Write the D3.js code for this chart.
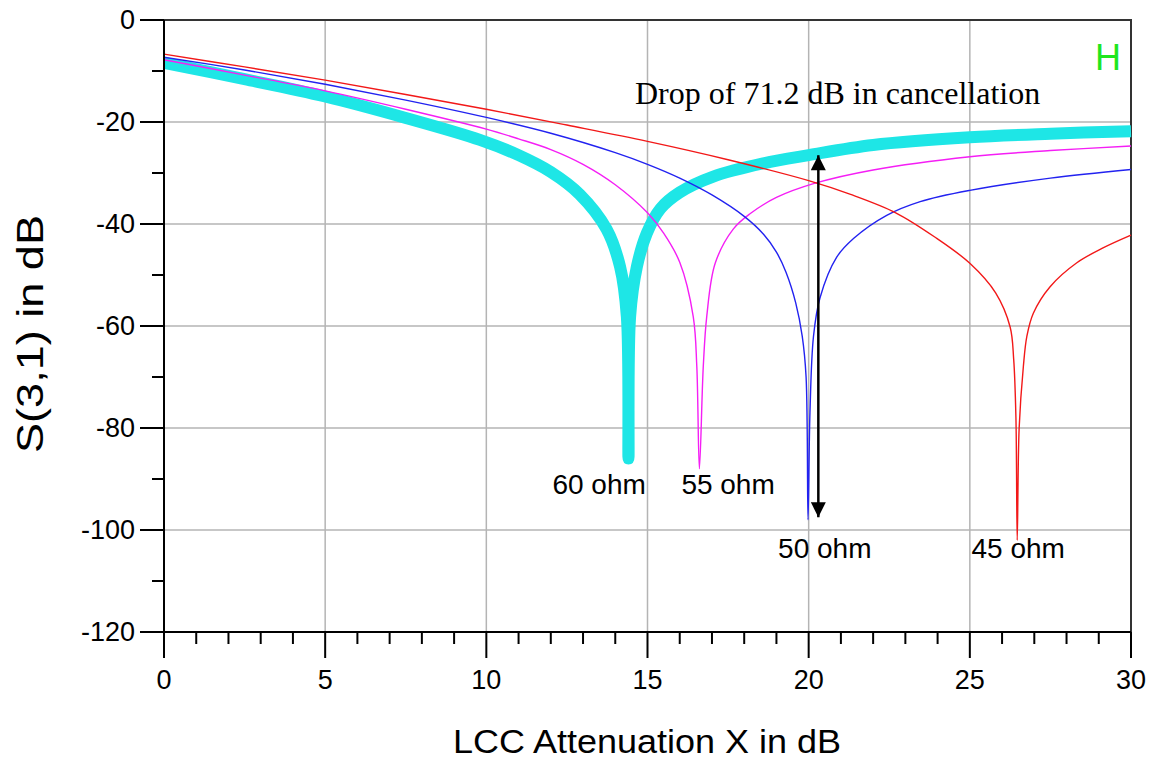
<!DOCTYPE html>
<html>
<head>
<meta charset="utf-8">
<script src="https://cdnjs.cloudflare.com/ajax/libs/d3/7.8.5/d3.min.js"></script>
<style>
  body { margin: 0; background: #fff; }
  svg { display: block; font-family: "Liberation Sans", Arial, sans-serif; }
</style>
</head>
<body>
<svg></svg>
<script>
// values (X in dB, S(3,1) in dB)
var redX = [0, 2.5, 5, 7.5, 10, 12.5, 15, 17.5, 20, 21.3, 22.7, 23.9, 25, 25.8, 26.25, 26.36, 26.43, 26.47, 26.53, 26.66, 26.77, 26.97, 27.49, 28.32, 29.1, 30];
var redY = [-6.7, -9.2, -11.8, -14.6, -17.5, -20.6, -23.8, -27.4, -31.5, -34.2, -37.8, -42.5, -47.7, -53.5, -60.2, -66.5, -78, -102, -80, -68, -62, -57.5, -52.3, -47.6, -44.8, -42.2];

var blueX = [0, 2.5, 5, 7.5, 10, 12, 14, 15, 16, 17, 18, 18.6, 19, 19.3, 19.6, 19.8, 19.92, 19.98, 20.04, 20.15, 20.35, 20.87, 21.4, 22.42, 23.46, 25, 27.5, 30];
var blueY = [-7.3, -9.8, -12.6, -15.7, -19.1, -22.2, -26, -28.3, -31, -34.3, -38.5, -42, -45.5, -49.5, -55.5, -62, -70, -98, -77, -62, -54.5, -46.5, -42.8, -38.3, -35.6, -33.4, -31, -29.3];

var magentaX = [0, 2.5, 5, 7.5, 10, 11, 12, 13, 14, 15, 15.5, 16, 16.42, 16.53, 16.61, 16.73, 16.84, 17.1, 17.66, 18.18, 19, 20.2, 22, 25, 27.5, 30];
var magentaY = [-7.8, -10.8, -13.9, -17.5, -21.4, -23.3, -25.4, -28.3, -32.3, -37.8, -41.8, -47.5, -58.2, -68, -88, -68, -58, -47.7, -41, -38, -34.8, -32, -29.4, -26.8, -25.6, -24.7];

var cyanX = [0, 2.5, 5, 7.5, 9.8, 11, 12, 12.9, 13.73, 14.15, 14.36, 14.41, 14.46, 14.67, 14.98, 15.4, 16, 17.04, 18.6, 20, 22, 25, 27.5, 30];
var cyanY = [-8.4, -11.6, -15, -19.2, -23.5, -26.5, -29.8, -34.2, -41, -48.4, -58.2, -86, -58.2, -48.4, -41.8, -37, -33.8, -30.7, -28.1, -26.5, -24.5, -23, -22.3, -21.8];

var seriesNames = ["45 ohm", "50 ohm", "55 ohm", "60 ohm"];
var xTicks = [0, 5, 10, 15, 20, 25, 30];
var yTicks = [0, -20, -40, -60, -80, -100, -120];

// drop marker: X position and the two ends
var dropX = 20.3;
var dropEnds = [-26.5, -97.5];

var svgW = 1151, svgH = 762;
var mLeft = 164, mTop = 20, mRight = 1131, mBottom = 632;

var svg = d3.select("svg").attr("width", svgW).attr("height", svgH);

var xScale = d3.scaleLinear().domain([0, 30]).range([mLeft, mRight]);
var yScale = d3.scaleLinear().domain([-120, 0]).range([mBottom, mTop]);

// grid
svg.append("g").selectAll("line")
  .data(d3.range(5, 30, 5))
  .enter().append("line")
  .attr("x1", function(d) { return xScale(d); })
  .attr("x2", function(d) { return xScale(d); })
  .attr("y1", mTop).attr("y2", mBottom)
  .attr("stroke", "#b4b4b4").attr("stroke-width", 1.5);
svg.append("g").selectAll("line")
  .data(d3.range(-100, 0, 20))
  .enter().append("line")
  .attr("y1", function(d) { return yScale(d); })
  .attr("y2", function(d) { return yScale(d); })
  .attr("x1", mLeft).attr("x2", mRight)
  .attr("stroke", "#b4b4b4").attr("stroke-width", 1.5);

// frame top/right
svg.append("path")
  .attr("d", "M" + mLeft + "," + mTop + "H" + mRight + "V" + mBottom)
  .attr("fill", "none").attr("stroke", "#333").attr("stroke-width", 2);

// curves
var curves = [
  {name: seriesNames[0], x: redX, y: redY, color: "#f21818", w: 1.4},
  {name: seriesNames[1], x: blueX, y: blueY, color: "#2222f0", w: 1.4},
  {name: seriesNames[2], x: magentaX, y: magentaY, color: "#f51ef5", w: 1.4},
  {name: seriesNames[3], x: cyanX, y: cyanY, color: "#1ee6e6", w: 12}
];

var line = d3.line()
  .x(function(d) { return xScale(d[0]); })
  .y(function(d) { return yScale(d[1]); })
  .curve(d3.curveCatmullRom.alpha(0.5));

// cyan first so the thin ones sit over it
[3, 2, 1, 0].forEach(function(i) {
  var c = curves[i];
  var pts = c.x.map(function(v, k) { return [v, c.y[k]]; });
  svg.append("path")
    .datum(pts)
    .attr("d", line)
    .attr("fill", "none")
    .attr("stroke", c.color)
    .attr("stroke-width", c.w)
    .attr("stroke-linejoin", "bevel");
});

// axes
var xAxis = svg.append("g");
xAxis.append("line").attr("x1", mLeft - 1).attr("x2", mRight).attr("y1", mBottom).attr("y2", mBottom)
  .attr("stroke", "#000").attr("stroke-width", 2);
xAxis.selectAll(".minor").data(d3.range(0, 31)).enter().append("line")
  .attr("x1", function(d) { return xScale(d); })
  .attr("x2", function(d) { return xScale(d); })
  .attr("y1", mBottom)
  .attr("y2", function(d) { return d % 5 === 0 ? mBottom + 26 : mBottom + 12; })
  .attr("stroke", "#000").attr("stroke-width", 2);
xAxis.selectAll("text").data(xTicks).enter().append("text")
  .attr("x", function(d) { return xScale(d); })
  .attr("y", mBottom + 57)
  .attr("text-anchor", "middle")
  .attr("font-size", 27)
  .text(function(d) { return d; });

var yAxis = svg.append("g");
yAxis.append("line").attr("x1", mLeft).attr("x2", mLeft).attr("y1", mTop).attr("y2", mBottom + 1)
  .attr("stroke", "#000").attr("stroke-width", 2);
yAxis.selectAll(".minor").data(d3.range(-120, 1, 10)).enter().append("line")
  .attr("y1", function(d) { return yScale(d); })
  .attr("y2", function(d) { return yScale(d); })
  .attr("x1", mLeft)
  .attr("x2", function(d) { return d % 20 === 0 ? mLeft - 24 : mLeft - 12; })
  .attr("stroke", "#000").attr("stroke-width", 2);
yAxis.selectAll("text").data(yTicks).enter().append("text")
  .attr("x", mLeft - 29)
  .attr("y", function(d) { return yScale(d) + 9; })
  .attr("text-anchor", "end")
  .attr("font-size", 27)
  .text(function(d) { return d; });

// axis titles
svg.append("text")
  .attr("x", 647).attr("y", 753)
  .attr("text-anchor", "middle")
  .attr("font-size", 34)
  .attr("textLength", 388)
  .attr("lengthAdjust", "spacingAndGlyphs")
  .text("LCC Attenuation X in dB");
svg.append("text")
  .attr("transform", "translate(43,334) rotate(-90)")
  .attr("text-anchor", "middle")
  .attr("font-size", 37)
  .attr("textLength", 238)
  .attr("lengthAdjust", "spacingAndGlyphs")
  .text("S(3,1) in dB");

// series labels
var labelX = [26.5, 20.5, 17.5, 13.5];
var labelY = [-105.5, -105.5, -92.9, -92.9];
svg.append("g").selectAll("text").data(seriesNames).enter().append("text")
  .attr("x", function(d, i) { return xScale(labelX[i]); })
  .attr("y", function(d, i) { return yScale(labelY[i]); })
  .attr("text-anchor", "middle")
  .attr("font-size", 28)
  .text(function(d) { return d; });

// arrow for the drop
svg.append("defs").append("marker")
  .attr("id", "head")
  .attr("viewBox", "0 0 10 10")
  .attr("refX", 10).attr("refY", 5)
  .attr("markerWidth", 16).attr("markerHeight", 15)
  .attr("markerUnits", "userSpaceOnUse")
  .attr("orient", "auto-start-reverse")
  .append("path").attr("d", "M0,0L10,5L0,10Z").attr("fill", "#000");
svg.append("line")
  .attr("x1", xScale(dropX)).attr("x2", xScale(dropX))
  .attr("y1", yScale(dropEnds[0])).attr("y2", yScale(dropEnds[1]))
  .attr("stroke", "#000").attr("stroke-width", 2.5)
  .attr("marker-start", "url(#head)")
  .attr("marker-end", "url(#head)");

svg.append("text")
  .attr("x", 635).attr("y", 104)
  .attr("font-family", "'Liberation Serif', 'Times New Roman', serif")
  .attr("font-size", 32)
  .text("Drop of 71.2 dB in cancellation");

svg.append("text")
  .attr("x", 1108).attr("y", 70)
  .attr("text-anchor", "middle")
  .attr("fill", "#1ee61e")
  .attr("font-size", 36)
  .text("H");
</script>
</body>
</html>
